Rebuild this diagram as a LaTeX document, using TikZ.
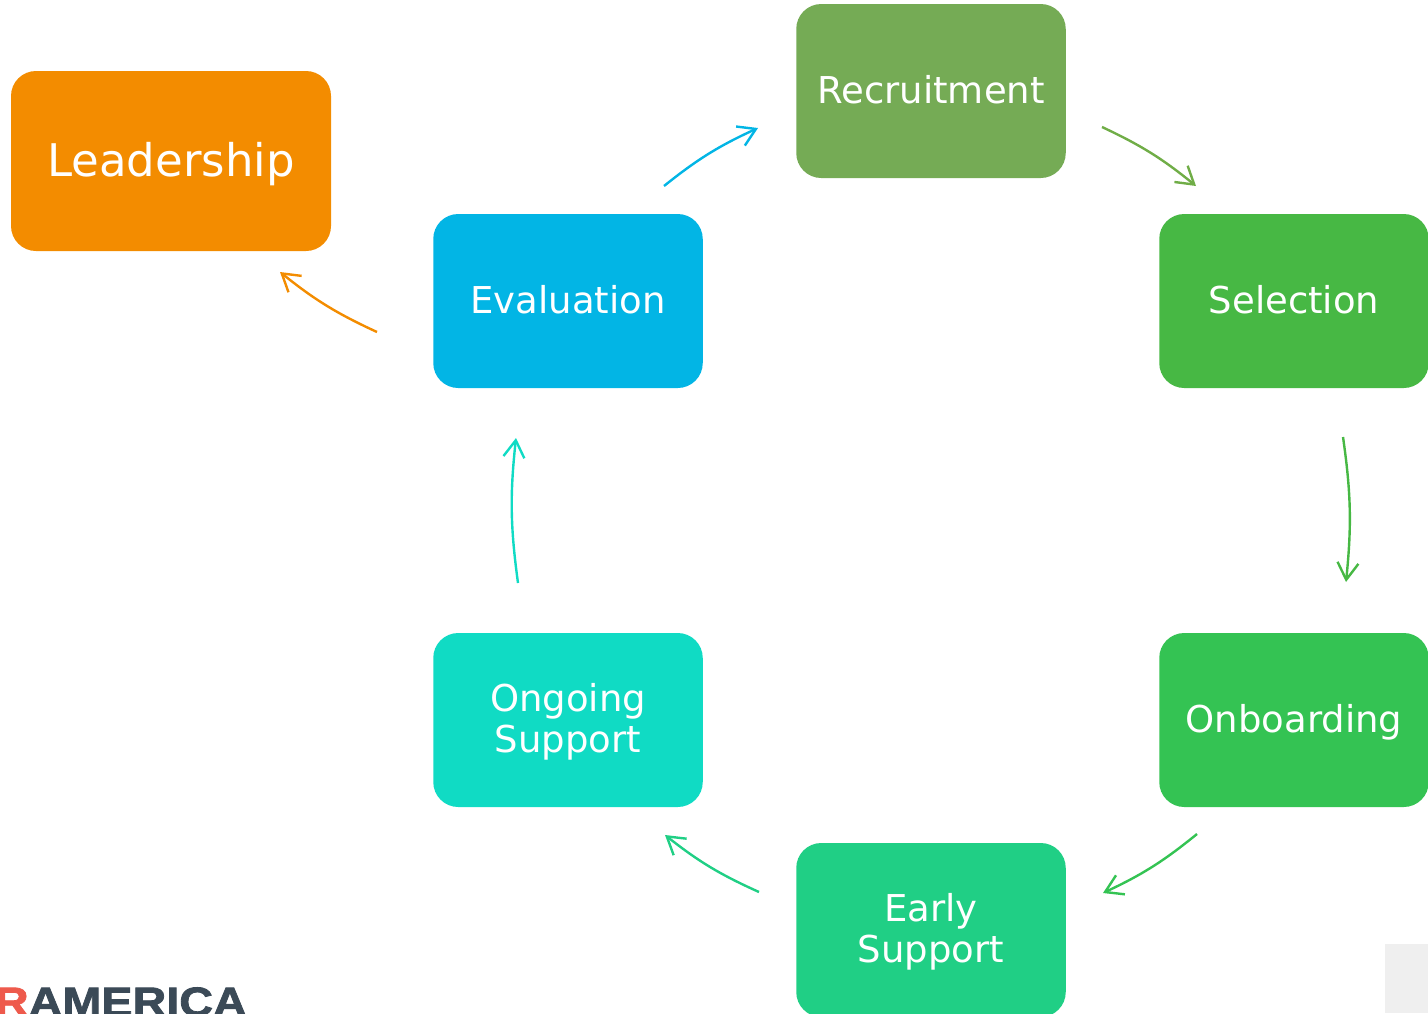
\documentclass[tikz,border=0pt]{standalone}
\usepackage{fontspec}
\setmainfont{DejaVu Sans}
\newfontfamily\logofont[BoldFeatures={FakeBold=2,FakeStretch=1.14}]{Liberation Sans}
\usetikzlibrary{arrows.meta}
\definecolor{cLead}{HTML}{F38C00}
\definecolor{cRec}{HTML}{75AB55}
\definecolor{cRecA}{HTML}{70AD47}
\definecolor{cSel}{HTML}{47B844}
\definecolor{cOnb}{HTML}{34C353}
\definecolor{cEar}{HTML}{20CF85}
\definecolor{cOng}{HTML}{10DBC4}
\definecolor{cEva}{HTML}{02B5E5}
\definecolor{cLogoR}{HTML}{EE5A4C}
\definecolor{cLogoD}{HTML}{3B4A57}
\definecolor{cPatch}{HTML}{EFEFEF}
\tikzset{
  stagebox/.style={rounded corners=25pt,minimum width=269.5pt,minimum height=174pt,
    inner sep=0pt,text=white,align=center,text height=32pt,text depth=8pt,
    font=\fontsize{37}{40.5}\selectfont},
  twoline/.style={text height=72pt,text depth=8pt},
  leadbox/.style={stagebox,minimum width=320pt,minimum height=180pt,text height=40pt,text depth=9.4pt,
    font=\fontsize{45}{50}\selectfont},
  flow/.style={line width=2.4pt,-{Straight Barb[length=17pt,width=21pt,line width=2.4pt]},bend left=7},
  logotext/.style={inner sep=0pt,anchor=base east,font=\logofont\bfseries\fontsize{41}{41}\selectfont}
}
\begin{document}
\begin{tikzpicture}[x=1pt,y=-1pt]
\useasboundingbox (0,0) rectangle (1428,1013);
\clip (0,0) rectangle (1428,1013);
\fill[cPatch] (1385,944) rectangle (1428,1013);
\node[stagebox,leadbox,fill=cLead] (lead) at (171,161) {Leadership};
\node[stagebox,fill=cRec] (rec) at (931,91) {Recruitment};
\node[stagebox,fill=cSel] (sel) at (1294,301) {Selection};
\node[stagebox,fill=cOnb] (onb) at (1294,720) {Onboarding};
\node[stagebox,twoline,fill=cEar] (ear) at (931,930) {Early\\Support};
\node[stagebox,twoline,fill=cOng] (ong) at (568,720) {Ongoing\\Support};
\node[stagebox,fill=cEva] (eva) at (568,301) {Evaluation};
\coordinate (a1) at (1102,127); \coordinate (a2) at (1196,186);
\coordinate (b1) at (1343,437); \coordinate (b2) at (1346,582);
\coordinate (c1) at (1197,834); \coordinate (c2) at (1103,893);
\coordinate (d1) at (759,892);  \coordinate (d2) at (665,835);
\coordinate (e1) at (518,583);  \coordinate (e2) at (516,438);
\coordinate (f1) at (664,186);  \coordinate (f2) at (758,128);
\coordinate (g1) at (377,332);  \coordinate (g2) at (280,272);
\draw[flow,cRecA] (a1) to (a2);
\draw[flow,cSel] (b1) to (b2);
\draw[flow,cOnb] (c1) to (c2);
\draw[flow,cEar] (d1) to (d2);
\draw[flow,cOng] (e1) to (e2);
\draw[flow,cEva] (f1) to (f2);
\draw[flow,cLead] (g1) to (g2);
\node[logotext] (logo) at (247,1016) {\textcolor{cLogoR}{OR}\textcolor{cLogoD}{AMERICA}};
\end{tikzpicture}
\end{document}
